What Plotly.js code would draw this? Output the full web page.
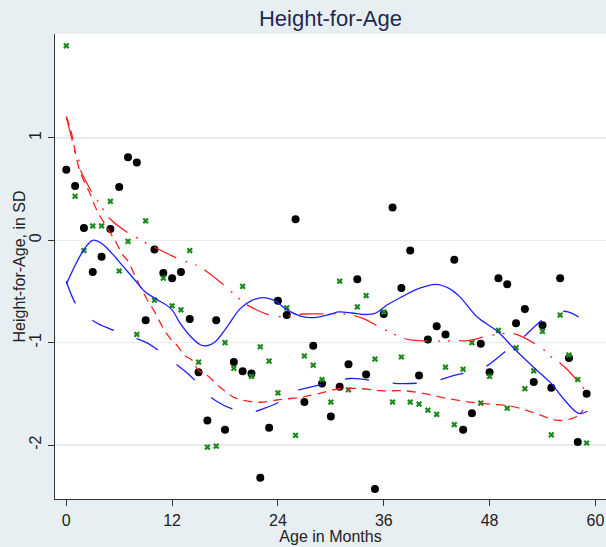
<!DOCTYPE html>
<html>
<head>
<meta charset="utf-8">
<script src="https://cdn.plot.ly/plotly-3.0.1.min.js"></script>
<style>html,body{margin:0;padding:0;background:#e8eff3;}#chart{width:606px;height:547px;}</style>
</head>
<body>
<div id="chart"></div>
<script>
// Months 0..59
const months = Array.from({length: 60}, (_, i) => i);

// Black dots (group 1)
const groupA = [0.69, 0.53, 0.12, -0.31, -0.16, 0.11, 0.52, 0.81, 0.76, -0.78,
  -0.09, -0.32, -0.37, -0.31, -0.77, -1.29, -1.76, -0.78, -1.85, -1.19,
  -1.28, -1.30, -2.32, -1.83, -0.59, -0.73, 0.205, -1.58, -1.03, -1.40,
  -1.72, -1.43, -1.21, -0.38, -1.31, -2.43, -0.72, 0.32, -0.465, -0.10,
  -1.32, -0.97, -0.84, -0.92, -0.19, -1.85, -1.69, -1.01, -1.29, -0.37,
  -0.43, -0.81, -0.67, -1.385, -0.83, -1.44, -0.37, -1.15, -1.97, -1.50];

// Green x markers (group 2)
const groupB = [1.90, 0.43, -0.10, 0.14, 0.14, 0.38, -0.30, -0.01, -0.92, 0.19,
  -0.585, -0.37, -0.64, -0.68, -0.10, -1.19, -2.02, -2.01, -1.00, -1.25,
  -0.45, -1.33, -1.04, -1.18, -1.49, -0.66, -1.905, -1.13, -1.22, -1.36,
  -1.58, -0.40, -1.46, -0.65, -0.54, -1.16, -0.70, -1.58, -1.14, -1.58,
  -1.60, -1.66, -1.70, -1.24, -1.80, -1.26, -1.00, -1.59, -1.33, -0.88,
  -1.64, -1.05, -1.45, -1.275, -0.89, -1.90, -0.73, -1.12, -1.36, -1.98];

// Blue solid smooth curve
const blueSolidX = [0, 1.93, 3, 4, 5.2, 6.3, 7.8, 8.9, 10.1, 11.9, 12.9, 14.1, 15.2, 15.95, 16.9, 18.2, 19.7, 21.1, 22.4, 23.5, 25.05, 26.55, 28.1, 30, 30.9, 32.4, 33.9, 35.1, 36.4, 38.1, 40, 41.9, 43.4, 44.6, 46.6, 48.9, 50.8, 53.1, 55, 56.5, 58.1, 59.1];
const blueSolidY = [-0.43, -0.10, 0.0, -0.03, -0.13, -0.24, -0.39, -0.50, -0.57, -0.67, -0.81, -0.94, -1.02, -1.03, -0.99, -0.85, -0.67, -0.585, -0.56, -0.585, -0.68, -0.74, -0.755, -0.72, -0.70, -0.71, -0.725, -0.71, -0.63, -0.55, -0.47, -0.43, -0.47, -0.55, -0.75, -0.89, -1.06, -1.25, -1.40, -1.56, -1.69, -1.67];

// Blue long-dashed curve
const blueDashX = [0, 1.07, 2.3, 3.5, 4.8, 6.0, 7.6, 9.1, 11.3, 12.6, 13.9, 14.6, 15.65, 17.0, 18.6, 19.7, 20.9, 22.5, 24.1, 25.05, 26.4, 27.9, 29.4, 32.2, 35.5, 38.1, 41.5, 44, 47.2, 49.5, 51.9, 53.9, 55.4, 56.9, 58.1];
const blueDashY = [-0.40, -0.62, -0.74, -0.81, -0.86, -0.90, -0.95, -1.00, -1.13, -1.22, -1.31, -1.37, -1.48, -1.57, -1.64, -1.66, -1.68, -1.64, -1.58, -1.51, -1.46, -1.43, -1.40, -1.35, -1.38, -1.40, -1.38, -1.32, -1.25, -1.105, -0.94, -0.78, -0.70, -0.70, -0.75];

// Red long-dashed curve
const redDashX = [0, 0.5, 1.56, 2.7, 3.3, 3.8, 4.8, 5.7, 6.3, 7.05, 7.7, 8.2, 9.3, 9.9, 10.5, 11, 11.8, 12.5, 13.5, 14.25, 15, 16, 17.1, 17.8, 19, 19.9, 21.4, 22.4, 23.9, 24.85, 26.55, 28.5, 31, 33.6, 35.8, 38.3, 40.8, 43.2, 45.7, 48, 50.4, 52.7, 55.2, 56.1, 57.4, 58.2, 58.6];
const redDashY = [1.21, 1.08, 0.67, 0.455, 0.325, 0.24, 0.10, -0.03, -0.13, -0.21, -0.33, -0.42, -0.60, -0.68, -0.78, -0.86, -0.96, -1.02, -1.13, -1.17, -1.27, -1.32, -1.41, -1.46, -1.535, -1.56, -1.58, -1.58, -1.56, -1.55, -1.535, -1.50, -1.45, -1.45, -1.47, -1.47, -1.50, -1.545, -1.58, -1.60, -1.62, -1.675, -1.75, -1.76, -1.74, -1.70, -1.66];

// Red dash-dot curve
const redDotX = [0, 0.6, 0.9, 1.4, 1.56, 2.9, 3.6, 4.2, 5, 7.05, 8.1, 9.1, 10.3, 12.7, 14.9, 16, 18.1, 19.05, 19.9, 20.9, 23.45, 25, 26.9, 29.9, 31.5, 33.4, 35.8, 37, 38, 39.2, 41.9, 43, 44, 45.5, 48.1, 50.5, 51.9, 54.3, 55, 56, 56.9, 58.7];
const redDotY = [1.2, 1.0, 0.88, 0.79, 0.70, 0.47, 0.38, 0.30, 0.205, 0.07, 0.02, -0.03, -0.08, -0.18, -0.25, -0.31, -0.455, -0.53, -0.59, -0.65, -0.74, -0.74, -0.72, -0.72, -0.72, -0.755, -0.86, -0.91, -0.95, -0.976, -0.985, -0.985, -0.98, -0.98, -0.93, -0.91, -0.95, -1.08, -1.14, -1.20, -1.27, -1.45];

const xTicks = [0, 12, 24, 36, 48, 60];
const yTicks = [-2, -1, 0, 1];

const FONT = 'Liberation Sans, Arial, sans-serif';

const traces = [
  {x: months, y: groupA, type: 'scatter', mode: 'markers',
   marker: {color: '#000000', size: 8, symbol: 'circle'}},
  {x: months, y: groupB, type: 'scatter', mode: 'markers',
   marker: {color: '#1a8a1a', size: 5.5, symbol: 'x'}},
  {x: redDashX, y: redDashY, type: 'scatter', mode: 'lines', line: {shape: 'spline', color: '#ff2020', width: 1.3, dash: '9px,6px'}},
  {x: redDotX, y: redDotY, type: 'scatter', mode: 'lines', line: {shape: 'spline', color: '#ff2020', width: 1.3, dash: '24px,10px,2px,8px,2px,9px'}},
  {x: blueDashX, y: blueDashY, type: 'scatter', mode: 'lines', line: {shape: 'spline', color: '#1f1fff', width: 1.3, dash: '24px,24px'}},
  {x: blueSolidX, y: blueSolidY, type: 'scatter', mode: 'lines', line: {shape: 'spline', color: '#1f1fff', width: 1.3}}
];

const layout = {
  width: 606, height: 547,
  margin: {l: 55, r: 0, t: 34, b: 48},
  paper_bgcolor: '#e8eff3',
  plot_bgcolor: '#ffffff',
  showlegend: false,
  font: {family: FONT, color: '#222222'},
  title: {text: 'Height-for-Age', font: {family: FONT, size: 22, color: '#1e2a4e'}, x: 0.5, xref: 'paper', y: 0.967, yanchor: 'middle'},
  xaxis: {
    range: [-1.28, 61.2], tickvals: xTicks, ticktext: xTicks.map(String),
    showgrid: false, zeroline: false, showline: true, linecolor: '#333333', linewidth: 1.3,
    ticks: 'outside', ticklen: 6, tickcolor: '#333333', tickfont: {size: 16, family: FONT, color: '#222'},
    title: {text: 'Age in Months', font: {size: 16, family: FONT, color: '#222'}, standoff: 2}
  },
  yaxis: {
    range: [-2.527, 2.015], tickvals: yTicks, ticktext: yTicks.map(String), tickangle: -90,
    showgrid: true, gridcolor: '#e4ebef', gridwidth: 1.3, zeroline: false, showline: true, linecolor: '#333333', linewidth: 1.3,
    ticks: 'outside', ticklen: 6, tickcolor: '#333333', tickfont: {size: 16, family: FONT, color: '#222'}
  },
  annotations: [{
    text: 'Height-for-Age, in SD', xref: 'paper', yref: 'paper', x: 0, y: 0.5,
    xshift: -36, xanchor: 'center', yanchor: 'middle', textangle: -90, showarrow: false,
    font: {size: 16, family: FONT, color: '#222'}
  }]
};

Plotly.newPlot('chart', traces, layout, {displayModeBar: false, staticPlot: true});
</script>
</body>
</html>
